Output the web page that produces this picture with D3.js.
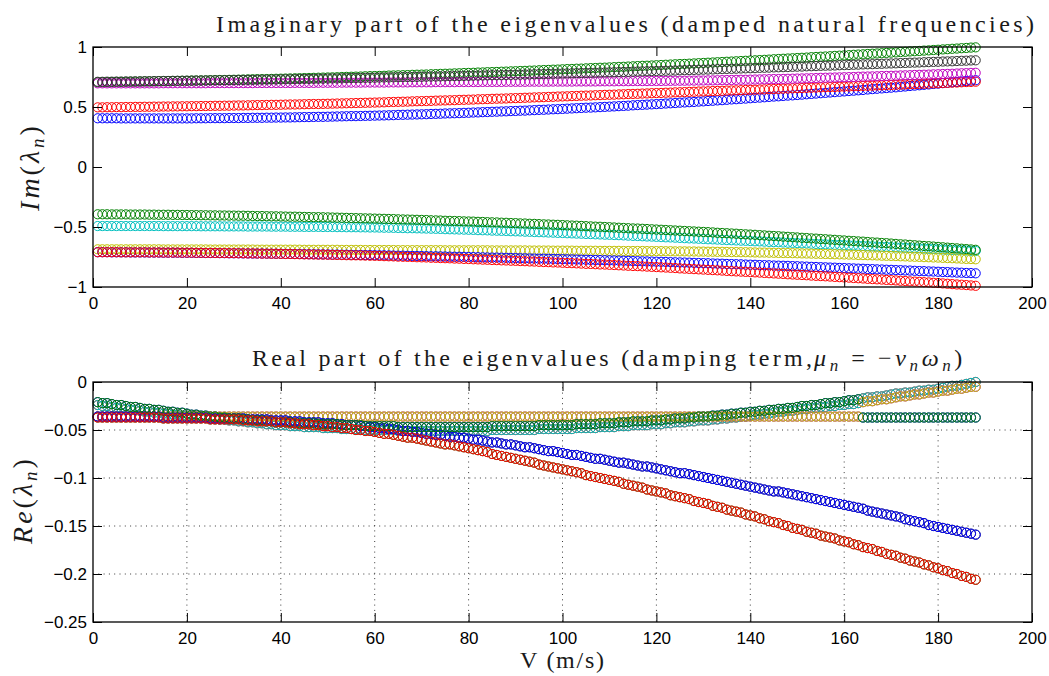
<!DOCTYPE html>
<html>
<head>
<meta charset="utf-8">
<script src="https://cdn.jsdelivr.net/npm/d3@7/dist/d3.min.js"></script>
<style>
  html, body { margin: 0; padding: 0; background: #fff; }
  svg { display: block; }
</style>
</head>
<body>
<svg id="chart" width="1049" height="676"></svg>
<script>
// Flow speed samples V (m/s), one marker per sample
const speeds = d3.range(1, 189);

// Imaginary parts of the ten eigenvalues (damped natural frequencies)
const imBlueUp = [0.406,
0.406,0.406,0.406,0.406,0.405,0.405,0.405,0.405,0.405,
0.405,0.405,0.405,0.405,0.405,0.405,0.405,0.405,0.405,0.405,
0.405,0.406,0.406,0.406,0.407,0.407,0.407,0.407,0.408,0.408,
0.408,0.409,0.409,0.410,0.410,0.410,0.411,0.411,0.412,0.412,
0.413,0.413,0.414,0.415,0.416,0.416,0.417,0.418,0.418,0.419,
0.420,0.421,0.422,0.423,0.424,0.424,0.425,0.426,0.427,0.428,
0.429,0.430,0.431,0.432,0.434,0.435,0.436,0.437,0.438,0.439,
0.440,0.442,0.443,0.444,0.446,0.447,0.448,0.449,0.451,0.452,
0.454,0.455,0.457,0.458,0.460,0.461,0.463,0.464,0.466,0.467,
0.469,0.470,0.472,0.474,0.476,0.477,0.479,0.481,0.482,0.484,
0.486,0.488,0.490,0.492,0.494,0.495,0.497,0.499,0.501,0.503,
0.505,0.507,0.509,0.511,0.514,0.516,0.518,0.520,0.522,0.524,
0.526,0.529,0.531,0.533,0.536,0.538,0.540,0.542,0.545,0.547,
0.550,0.552,0.555,0.557,0.560,0.563,0.565,0.568,0.570,0.573,
0.576,0.578,0.581,0.584,0.587,0.589,0.592,0.595,0.597,0.600,
0.603,0.606,0.609,0.612,0.615,0.618,0.621,0.624,0.627,0.630,
0.633,0.636,0.639,0.642,0.646,0.649,0.652,0.655,0.658,0.661,
0.664,0.668,0.671,0.675,0.678,0.681,0.685,0.688,0.692,0.695,
0.699,0.702,0.706,0.709,0.713,0.716,0.720,0.723];

const imGreenUp = [0.706,
0.707,0.707,0.708,0.709,0.709,0.710,0.711,0.711,0.712,
0.713,0.713,0.714,0.715,0.716,0.716,0.717,0.718,0.718,0.719,
0.720,0.721,0.721,0.722,0.723,0.724,0.725,0.725,0.726,0.727,
0.728,0.729,0.730,0.731,0.732,0.732,0.733,0.734,0.735,0.736,
0.737,0.738,0.739,0.740,0.741,0.742,0.743,0.744,0.745,0.746,
0.747,0.748,0.750,0.751,0.752,0.753,0.754,0.756,0.757,0.758,
0.759,0.760,0.762,0.763,0.764,0.765,0.766,0.768,0.769,0.770,
0.771,0.773,0.774,0.776,0.777,0.778,0.780,0.781,0.783,0.784,
0.785,0.787,0.788,0.790,0.791,0.792,0.794,0.795,0.797,0.798,
0.800,0.801,0.803,0.804,0.806,0.808,0.809,0.811,0.812,0.814,
0.816,0.817,0.819,0.820,0.822,0.824,0.825,0.827,0.828,0.830,
0.832,0.834,0.835,0.837,0.839,0.841,0.843,0.844,0.846,0.848,
0.850,0.852,0.854,0.856,0.858,0.859,0.861,0.863,0.865,0.867,
0.869,0.871,0.873,0.875,0.877,0.879,0.881,0.883,0.885,0.887,
0.889,0.891,0.893,0.895,0.898,0.900,0.902,0.904,0.906,0.908,
0.910,0.912,0.915,0.917,0.919,0.921,0.923,0.926,0.928,0.930,
0.932,0.935,0.937,0.939,0.942,0.944,0.946,0.948,0.951,0.953,
0.955,0.958,0.960,0.963,0.965,0.967,0.970,0.972,0.975,0.977,
0.980,0.982,0.985,0.987,0.990,0.992,0.995,0.997];

const imRedUp = [0.497,
0.497,0.498,0.498,0.499,0.499,0.500,0.500,0.501,0.501,
0.502,0.502,0.503,0.503,0.504,0.504,0.505,0.505,0.506,0.506,
0.507,0.507,0.508,0.508,0.509,0.510,0.510,0.511,0.511,0.512,
0.513,0.513,0.514,0.515,0.516,0.516,0.517,0.518,0.518,0.519,
0.520,0.521,0.521,0.522,0.523,0.524,0.525,0.525,0.526,0.527,
0.528,0.529,0.530,0.531,0.532,0.533,0.534,0.535,0.536,0.537,
0.538,0.539,0.541,0.542,0.543,0.544,0.545,0.547,0.548,0.549,
0.550,0.551,0.553,0.554,0.555,0.556,0.557,0.559,0.560,0.561,
0.562,0.564,0.565,0.566,0.568,0.569,0.570,0.571,0.573,0.574,
0.575,0.577,0.578,0.580,0.581,0.582,0.584,0.585,0.587,0.588,
0.589,0.591,0.592,0.594,0.595,0.596,0.598,0.599,0.601,0.602,
0.603,0.605,0.606,0.608,0.609,0.610,0.612,0.613,0.615,0.616,
0.617,0.619,0.620,0.622,0.623,0.624,0.626,0.627,0.629,0.630,
0.631,0.633,0.634,0.635,0.637,0.638,0.639,0.640,0.642,0.643,
0.644,0.646,0.647,0.649,0.650,0.651,0.653,0.654,0.656,0.657,
0.658,0.660,0.661,0.662,0.664,0.665,0.666,0.667,0.669,0.670,
0.671,0.673,0.674,0.676,0.677,0.678,0.680,0.681,0.683,0.684,
0.685,0.687,0.688,0.690,0.691,0.692,0.694,0.695,0.697,0.698,
0.700,0.701,0.703,0.704,0.706,0.708,0.709,0.711];

const imCyanDown = [-0.492,
-0.492,-0.492,-0.492,-0.492,-0.492,-0.492,-0.492,-0.492,-0.492,
-0.492,-0.492,-0.492,-0.492,-0.493,-0.493,-0.493,-0.493,-0.493,-0.493,
-0.493,-0.493,-0.494,-0.494,-0.494,-0.494,-0.494,-0.495,-0.495,-0.495,
-0.495,-0.495,-0.496,-0.496,-0.496,-0.496,-0.496,-0.497,-0.497,-0.497,
-0.497,-0.498,-0.498,-0.498,-0.499,-0.499,-0.499,-0.499,-0.500,-0.500,
-0.500,-0.501,-0.501,-0.502,-0.502,-0.502,-0.503,-0.503,-0.504,-0.504,
-0.505,-0.506,-0.506,-0.507,-0.508,-0.509,-0.510,-0.510,-0.511,-0.512,
-0.513,-0.514,-0.515,-0.516,-0.518,-0.519,-0.520,-0.521,-0.522,-0.523,
-0.524,-0.526,-0.527,-0.528,-0.530,-0.531,-0.532,-0.533,-0.535,-0.536,
-0.537,-0.539,-0.540,-0.542,-0.543,-0.544,-0.546,-0.547,-0.549,-0.550,
-0.552,-0.553,-0.555,-0.556,-0.558,-0.559,-0.561,-0.562,-0.564,-0.565,
-0.567,-0.568,-0.570,-0.572,-0.574,-0.575,-0.577,-0.579,-0.580,-0.582,
-0.584,-0.586,-0.587,-0.589,-0.591,-0.593,-0.595,-0.596,-0.598,-0.600,
-0.602,-0.603,-0.605,-0.607,-0.609,-0.610,-0.612,-0.614,-0.615,-0.617,
-0.619,-0.620,-0.622,-0.624,-0.626,-0.627,-0.629,-0.631,-0.632,-0.634,
-0.636,-0.637,-0.639,-0.641,-0.643,-0.644,-0.646,-0.648,-0.649,-0.651,
-0.653,-0.654,-0.656,-0.658,-0.660,-0.661,-0.663,-0.665,-0.666,-0.668,
-0.670,-0.671,-0.673,-0.675,-0.677,-0.678,-0.680,-0.682,-0.683,-0.685,
-0.687,-0.689,-0.691,-0.693,-0.694,-0.696,-0.698,-0.700];

const imMagentaUp = [0.697,
0.697,0.697,0.697,0.697,0.697,0.697,0.697,0.697,0.697,
0.697,0.697,0.697,0.697,0.698,0.698,0.698,0.698,0.698,0.698,
0.698,0.698,0.698,0.698,0.699,0.699,0.699,0.699,0.699,0.699,
0.699,0.699,0.699,0.699,0.700,0.700,0.700,0.700,0.700,0.700,
0.700,0.700,0.701,0.701,0.701,0.701,0.701,0.702,0.702,0.702,
0.702,0.702,0.703,0.703,0.703,0.703,0.703,0.704,0.704,0.704,
0.704,0.704,0.705,0.705,0.705,0.705,0.705,0.706,0.706,0.706,
0.706,0.706,0.707,0.707,0.707,0.707,0.707,0.708,0.708,0.708,
0.708,0.708,0.709,0.709,0.709,0.709,0.709,0.710,0.710,0.710,
0.710,0.710,0.711,0.711,0.711,0.711,0.711,0.712,0.712,0.712,
0.712,0.712,0.713,0.713,0.713,0.713,0.713,0.714,0.714,0.714,
0.714,0.715,0.715,0.715,0.716,0.716,0.716,0.716,0.717,0.717,
0.717,0.718,0.718,0.719,0.719,0.719,0.720,0.720,0.721,0.721,
0.722,0.722,0.723,0.724,0.725,0.725,0.726,0.727,0.727,0.728,
0.729,0.730,0.731,0.732,0.733,0.733,0.734,0.735,0.736,0.737,
0.738,0.739,0.740,0.741,0.743,0.744,0.745,0.746,0.747,0.748,
0.749,0.750,0.752,0.753,0.754,0.755,0.756,0.758,0.759,0.760,
0.761,0.763,0.764,0.765,0.767,0.768,0.769,0.770,0.772,0.773,
0.775,0.776,0.777,0.779,0.781,0.782,0.784,0.785];

const imYellowDown = [-0.686,
-0.686,-0.686,-0.686,-0.686,-0.686,-0.686,-0.686,-0.686,-0.686,
-0.686,-0.686,-0.686,-0.686,-0.687,-0.687,-0.687,-0.687,-0.687,-0.687,
-0.687,-0.687,-0.687,-0.687,-0.688,-0.688,-0.688,-0.688,-0.688,-0.688,
-0.688,-0.688,-0.688,-0.688,-0.689,-0.689,-0.689,-0.689,-0.689,-0.689,
-0.689,-0.689,-0.689,-0.689,-0.690,-0.690,-0.690,-0.690,-0.690,-0.690,
-0.690,-0.690,-0.691,-0.691,-0.691,-0.691,-0.691,-0.692,-0.692,-0.692,
-0.692,-0.692,-0.692,-0.692,-0.693,-0.693,-0.693,-0.693,-0.693,-0.693,
-0.693,-0.693,-0.693,-0.693,-0.694,-0.694,-0.694,-0.694,-0.694,-0.694,
-0.694,-0.694,-0.694,-0.694,-0.695,-0.695,-0.695,-0.695,-0.695,-0.695,
-0.695,-0.695,-0.696,-0.696,-0.696,-0.696,-0.696,-0.697,-0.697,-0.697,
-0.697,-0.697,-0.698,-0.698,-0.698,-0.698,-0.698,-0.699,-0.699,-0.699,
-0.699,-0.699,-0.700,-0.700,-0.700,-0.700,-0.700,-0.701,-0.701,-0.701,
-0.701,-0.702,-0.702,-0.703,-0.703,-0.703,-0.704,-0.704,-0.705,-0.705,
-0.706,-0.706,-0.707,-0.707,-0.708,-0.709,-0.709,-0.710,-0.710,-0.711,
-0.712,-0.713,-0.713,-0.714,-0.715,-0.716,-0.717,-0.717,-0.718,-0.719,
-0.720,-0.721,-0.722,-0.723,-0.724,-0.725,-0.726,-0.727,-0.728,-0.729,
-0.730,-0.731,-0.733,-0.734,-0.735,-0.736,-0.737,-0.739,-0.740,-0.741,
-0.742,-0.744,-0.745,-0.747,-0.748,-0.749,-0.751,-0.752,-0.754,-0.755,
-0.757,-0.759,-0.760,-0.762,-0.764,-0.766,-0.767,-0.769];

const imGrayUp = [0.710,
0.710,0.711,0.711,0.712,0.712,0.713,0.713,0.714,0.714,
0.715,0.715,0.716,0.716,0.717,0.717,0.718,0.718,0.719,0.719,
0.720,0.720,0.721,0.721,0.722,0.722,0.723,0.723,0.724,0.724,
0.725,0.725,0.726,0.726,0.727,0.728,0.728,0.729,0.729,0.730,
0.731,0.731,0.732,0.733,0.734,0.734,0.735,0.736,0.736,0.737,
0.738,0.738,0.739,0.740,0.741,0.741,0.742,0.743,0.743,0.744,
0.745,0.746,0.746,0.747,0.748,0.749,0.750,0.750,0.751,0.752,
0.753,0.754,0.754,0.755,0.756,0.757,0.758,0.758,0.759,0.760,
0.761,0.762,0.763,0.764,0.765,0.765,0.766,0.767,0.768,0.769,
0.770,0.771,0.772,0.773,0.774,0.775,0.776,0.777,0.778,0.779,
0.780,0.781,0.782,0.783,0.784,0.785,0.786,0.787,0.788,0.789,
0.790,0.791,0.792,0.793,0.795,0.796,0.797,0.798,0.799,0.800,
0.801,0.802,0.803,0.804,0.806,0.807,0.808,0.809,0.810,0.811,
0.812,0.813,0.815,0.816,0.817,0.818,0.819,0.821,0.822,0.823,
0.824,0.826,0.827,0.828,0.830,0.831,0.832,0.833,0.835,0.836,
0.837,0.839,0.840,0.841,0.843,0.844,0.845,0.846,0.848,0.849,
0.850,0.852,0.853,0.855,0.856,0.857,0.859,0.860,0.862,0.863,
0.864,0.866,0.867,0.869,0.870,0.871,0.873,0.874,0.876,0.877,
0.879,0.880,0.881,0.883,0.885,0.886,0.888,0.889];

const imBlueDown = [-0.710,
-0.710,-0.710,-0.711,-0.711,-0.711,-0.711,-0.712,-0.712,-0.712,
-0.712,-0.713,-0.713,-0.713,-0.714,-0.714,-0.714,-0.714,-0.715,-0.715,
-0.715,-0.716,-0.716,-0.717,-0.717,-0.717,-0.718,-0.718,-0.719,-0.719,
-0.719,-0.720,-0.720,-0.721,-0.721,-0.721,-0.722,-0.722,-0.723,-0.723,
-0.724,-0.724,-0.725,-0.725,-0.726,-0.727,-0.727,-0.728,-0.728,-0.729,
-0.730,-0.730,-0.731,-0.731,-0.732,-0.733,-0.733,-0.734,-0.734,-0.735,
-0.736,-0.736,-0.737,-0.738,-0.739,-0.739,-0.740,-0.741,-0.741,-0.742,
-0.743,-0.744,-0.744,-0.745,-0.746,-0.747,-0.748,-0.748,-0.749,-0.750,
-0.751,-0.752,-0.753,-0.754,-0.755,-0.755,-0.756,-0.757,-0.758,-0.759,
-0.760,-0.761,-0.762,-0.763,-0.764,-0.764,-0.765,-0.766,-0.767,-0.768,
-0.769,-0.770,-0.771,-0.772,-0.773,-0.774,-0.775,-0.776,-0.777,-0.778,
-0.779,-0.780,-0.781,-0.782,-0.784,-0.785,-0.786,-0.787,-0.788,-0.789,
-0.790,-0.791,-0.793,-0.794,-0.795,-0.796,-0.797,-0.799,-0.800,-0.801,
-0.802,-0.804,-0.805,-0.806,-0.808,-0.809,-0.810,-0.811,-0.813,-0.814,
-0.815,-0.817,-0.818,-0.819,-0.821,-0.822,-0.823,-0.824,-0.826,-0.827,
-0.829,-0.830,-0.832,-0.833,-0.835,-0.836,-0.838,-0.839,-0.841,-0.842,
-0.844,-0.845,-0.847,-0.848,-0.850,-0.851,-0.853,-0.854,-0.856,-0.857,
-0.859,-0.860,-0.862,-0.863,-0.865,-0.867,-0.868,-0.870,-0.871,-0.873,
-0.875,-0.876,-0.878,-0.880,-0.881,-0.883,-0.884,-0.886];

const imGreenDown = [-0.394,
-0.394,-0.394,-0.395,-0.395,-0.395,-0.395,-0.396,-0.396,-0.396,
-0.396,-0.397,-0.397,-0.398,-0.398,-0.398,-0.399,-0.399,-0.400,-0.400,
-0.401,-0.401,-0.402,-0.402,-0.403,-0.403,-0.404,-0.404,-0.405,-0.405,
-0.406,-0.406,-0.407,-0.408,-0.409,-0.409,-0.410,-0.411,-0.411,-0.412,
-0.413,-0.414,-0.414,-0.415,-0.416,-0.417,-0.418,-0.418,-0.419,-0.420,
-0.421,-0.422,-0.423,-0.424,-0.425,-0.426,-0.427,-0.428,-0.429,-0.430,
-0.431,-0.432,-0.433,-0.434,-0.436,-0.437,-0.438,-0.439,-0.440,-0.441,
-0.442,-0.444,-0.445,-0.446,-0.448,-0.449,-0.450,-0.451,-0.453,-0.454,
-0.455,-0.457,-0.458,-0.460,-0.461,-0.462,-0.464,-0.465,-0.467,-0.468,
-0.470,-0.471,-0.473,-0.474,-0.476,-0.478,-0.479,-0.481,-0.482,-0.484,
-0.486,-0.488,-0.489,-0.491,-0.493,-0.495,-0.497,-0.498,-0.500,-0.502,
-0.504,-0.506,-0.508,-0.510,-0.512,-0.513,-0.515,-0.517,-0.519,-0.521,
-0.523,-0.525,-0.527,-0.529,-0.531,-0.533,-0.535,-0.537,-0.539,-0.541,
-0.543,-0.545,-0.548,-0.550,-0.552,-0.554,-0.556,-0.559,-0.561,-0.563,
-0.565,-0.568,-0.570,-0.573,-0.575,-0.577,-0.580,-0.582,-0.585,-0.587,
-0.590,-0.592,-0.595,-0.597,-0.600,-0.602,-0.605,-0.607,-0.610,-0.612,
-0.615,-0.617,-0.620,-0.622,-0.625,-0.628,-0.630,-0.633,-0.635,-0.638,
-0.641,-0.644,-0.646,-0.649,-0.652,-0.655,-0.658,-0.660,-0.663,-0.666,
-0.669,-0.672,-0.675,-0.678,-0.681,-0.684,-0.687,-0.690];

const imRedDown = [-0.710,
-0.710,-0.710,-0.710,-0.710,-0.711,-0.711,-0.711,-0.711,-0.711,
-0.711,-0.712,-0.712,-0.712,-0.713,-0.713,-0.713,-0.713,-0.714,-0.714,
-0.714,-0.715,-0.715,-0.716,-0.716,-0.716,-0.717,-0.717,-0.718,-0.718,
-0.719,-0.719,-0.720,-0.720,-0.721,-0.722,-0.722,-0.723,-0.723,-0.724,
-0.725,-0.725,-0.726,-0.727,-0.728,-0.728,-0.729,-0.730,-0.730,-0.731,
-0.732,-0.733,-0.734,-0.735,-0.736,-0.736,-0.737,-0.738,-0.739,-0.740,
-0.741,-0.743,-0.744,-0.745,-0.747,-0.748,-0.749,-0.750,-0.752,-0.753,
-0.754,-0.756,-0.757,-0.759,-0.760,-0.761,-0.763,-0.764,-0.766,-0.767,
-0.769,-0.770,-0.772,-0.773,-0.775,-0.776,-0.778,-0.779,-0.781,-0.782,
-0.784,-0.785,-0.787,-0.788,-0.790,-0.792,-0.793,-0.795,-0.796,-0.798,
-0.800,-0.801,-0.803,-0.805,-0.807,-0.808,-0.810,-0.812,-0.813,-0.815,
-0.817,-0.819,-0.821,-0.823,-0.825,-0.826,-0.828,-0.830,-0.832,-0.834,
-0.836,-0.838,-0.840,-0.842,-0.845,-0.847,-0.849,-0.851,-0.853,-0.855,
-0.857,-0.859,-0.861,-0.863,-0.866,-0.868,-0.870,-0.872,-0.874,-0.876,
-0.878,-0.880,-0.883,-0.885,-0.887,-0.889,-0.891,-0.894,-0.896,-0.898,
-0.900,-0.902,-0.905,-0.907,-0.909,-0.911,-0.913,-0.916,-0.918,-0.920,
-0.922,-0.925,-0.927,-0.929,-0.932,-0.934,-0.936,-0.938,-0.941,-0.943,
-0.945,-0.948,-0.950,-0.953,-0.955,-0.957,-0.960,-0.962,-0.965,-0.967,
-0.970,-0.973,-0.976,-0.979,-0.981,-0.984,-0.987,-0.990];

// Real parts (damping terms); each conjugate pair shares one track
const reGreen = [-0.021,
-0.022,-0.022,-0.023,-0.024,-0.024,-0.025,-0.026,-0.026,-0.027,
-0.028,-0.028,-0.029,-0.029,-0.030,-0.031,-0.031,-0.032,-0.032,-0.033,
-0.034,-0.034,-0.035,-0.035,-0.036,-0.036,-0.037,-0.037,-0.038,-0.038,
-0.038,-0.039,-0.039,-0.040,-0.040,-0.040,-0.041,-0.041,-0.042,-0.042,
-0.042,-0.042,-0.043,-0.043,-0.043,-0.043,-0.043,-0.044,-0.044,-0.044,
-0.044,-0.044,-0.045,-0.045,-0.045,-0.045,-0.045,-0.046,-0.046,-0.046,
-0.046,-0.046,-0.046,-0.046,-0.047,-0.047,-0.047,-0.047,-0.047,-0.047,
-0.047,-0.047,-0.047,-0.047,-0.047,-0.047,-0.047,-0.047,-0.047,-0.047,
-0.047,-0.047,-0.047,-0.047,-0.046,-0.046,-0.046,-0.046,-0.046,-0.046,
-0.046,-0.046,-0.046,-0.046,-0.045,-0.045,-0.045,-0.045,-0.045,-0.045,
-0.045,-0.045,-0.044,-0.044,-0.044,-0.044,-0.044,-0.043,-0.043,-0.043,
-0.043,-0.042,-0.042,-0.042,-0.041,-0.041,-0.041,-0.041,-0.040,-0.040,
-0.040,-0.039,-0.039,-0.038,-0.038,-0.038,-0.037,-0.037,-0.036,-0.036,
-0.036,-0.035,-0.035,-0.034,-0.034,-0.033,-0.033,-0.032,-0.032,-0.031,
-0.031,-0.030,-0.030,-0.029,-0.029,-0.028,-0.028,-0.027,-0.027,-0.026,
-0.025,-0.025,-0.024,-0.024,-0.023,-0.022,-0.022,-0.021,-0.021,-0.020,
-0.019,-0.019,-0.018,
-0.037,-0.037,-0.037,-0.037,-0.037,-0.037,-0.037,
-0.037,-0.037,-0.037,-0.037,-0.037,-0.037,-0.037,-0.037,-0.037,-0.037,
-0.037,-0.037,-0.037,-0.037,-0.037,-0.037,-0.037,-0.037];

const reCyan = [-0.024,
-0.025,-0.025,-0.026,-0.027,-0.027,-0.028,-0.029,-0.029,-0.030,
-0.031,-0.031,-0.032,-0.032,-0.033,-0.033,-0.034,-0.034,-0.035,-0.035,
-0.036,-0.036,-0.037,-0.037,-0.038,-0.038,-0.039,-0.039,-0.040,-0.040,
-0.041,-0.041,-0.042,-0.042,-0.043,-0.043,-0.044,-0.044,-0.045,-0.045,
-0.045,-0.046,-0.046,-0.046,-0.047,-0.047,-0.047,-0.047,-0.048,-0.048,
-0.048,-0.048,-0.049,-0.049,-0.049,-0.049,-0.049,-0.050,-0.050,-0.050,
-0.050,-0.050,-0.050,-0.050,-0.051,-0.051,-0.051,-0.051,-0.051,-0.051,
-0.051,-0.051,-0.051,-0.051,-0.051,-0.051,-0.051,-0.051,-0.051,-0.051,
-0.051,-0.051,-0.051,-0.051,-0.050,-0.050,-0.050,-0.050,-0.050,-0.050,
-0.050,-0.050,-0.050,-0.050,-0.049,-0.049,-0.049,-0.049,-0.049,-0.049,
-0.049,-0.049,-0.048,-0.048,-0.048,-0.048,-0.048,-0.047,-0.047,-0.047,
-0.047,-0.046,-0.046,-0.046,-0.045,-0.045,-0.045,-0.045,-0.044,-0.044,
-0.044,-0.043,-0.043,-0.042,-0.042,-0.042,-0.041,-0.041,-0.040,-0.040,
-0.040,-0.039,-0.039,-0.038,-0.038,-0.037,-0.037,-0.036,-0.036,-0.035,
-0.034,-0.034,-0.033,-0.033,-0.032,-0.031,-0.031,-0.030,-0.030,-0.029,
-0.028,-0.028,-0.027,-0.027,-0.026,-0.026,-0.025,-0.025,-0.024,-0.024,
-0.023,-0.023,-0.022,
-0.017,-0.016,-0.016,-0.015,-0.015,-0.014,-0.013,
-0.012,-0.012,-0.011,-0.011,-0.010,-0.009,-0.009,-0.008,-0.008,-0.007,
-0.006,-0.005,-0.004,-0.004,-0.003,-0.002,-0.001,0.000];

const reYellow = [-0.036,
-0.036,-0.036,-0.036,-0.036,-0.036,-0.036,-0.036,-0.036,-0.036,
-0.036,-0.036,-0.036,-0.036,-0.036,-0.036,-0.036,-0.036,-0.036,-0.036,
-0.036,-0.036,-0.036,-0.036,-0.036,-0.036,-0.036,-0.036,-0.036,-0.036,
-0.036,-0.036,-0.036,-0.036,-0.036,-0.036,-0.036,-0.036,-0.036,-0.036,
-0.036,-0.036,-0.036,-0.036,-0.036,-0.036,-0.036,-0.036,-0.036,-0.036,
-0.036,-0.036,-0.036,-0.036,-0.036,-0.036,-0.036,-0.036,-0.036,-0.036,
-0.036,-0.036,-0.036,-0.036,-0.036,-0.036,-0.036,-0.036,-0.036,-0.036,
-0.036,-0.036,-0.036,-0.036,-0.036,-0.036,-0.036,-0.036,-0.036,-0.036,
-0.036,-0.036,-0.036,-0.036,-0.036,-0.036,-0.036,-0.036,-0.036,-0.036,
-0.036,-0.036,-0.036,-0.036,-0.036,-0.036,-0.036,-0.036,-0.036,-0.036,
-0.036,-0.036,-0.036,-0.036,-0.036,-0.036,-0.036,-0.036,-0.036,-0.036,
-0.036,-0.036,-0.036,-0.036,-0.036,-0.036,-0.036,-0.036,-0.036,-0.036,
-0.036,-0.036,-0.036,-0.036,-0.036,-0.036,-0.036,-0.036,-0.036,-0.036,
-0.036,-0.036,-0.036,-0.036,-0.036,-0.036,-0.036,-0.036,-0.036,-0.036,
-0.036,-0.036,-0.036,-0.036,-0.036,-0.036,-0.036,-0.036,-0.036,-0.036,
-0.036,-0.036,-0.036,-0.036,-0.036,-0.036,-0.036,-0.036,-0.036,-0.036,
-0.036,-0.036,-0.036,
-0.021,-0.020,-0.020,-0.019,-0.018,-0.018,-0.017,
-0.016,-0.015,-0.015,-0.014,-0.013,-0.013,-0.012,-0.011,-0.011,-0.010,
-0.009,-0.009,-0.008,-0.007,-0.007,-0.006,-0.005,-0.005];

const reBlue = [-0.036,
-0.036,-0.036,-0.036,-0.036,-0.036,-0.036,-0.036,-0.036,-0.036,
-0.036,-0.036,-0.036,-0.036,-0.037,-0.037,-0.037,-0.037,-0.037,-0.037,
-0.037,-0.037,-0.037,-0.037,-0.038,-0.038,-0.038,-0.038,-0.038,-0.038,
-0.038,-0.038,-0.039,-0.039,-0.039,-0.039,-0.039,-0.040,-0.040,-0.040,
-0.040,-0.041,-0.041,-0.041,-0.042,-0.042,-0.042,-0.042,-0.043,-0.043,
-0.043,-0.044,-0.044,-0.045,-0.045,-0.045,-0.046,-0.046,-0.047,-0.047,
-0.048,-0.048,-0.049,-0.049,-0.050,-0.051,-0.051,-0.052,-0.052,-0.053,
-0.054,-0.054,-0.055,-0.055,-0.056,-0.057,-0.057,-0.058,-0.058,-0.059,
-0.060,-0.060,-0.061,-0.062,-0.063,-0.063,-0.064,-0.065,-0.065,-0.066,
-0.067,-0.068,-0.068,-0.069,-0.070,-0.071,-0.072,-0.072,-0.073,-0.074,
-0.075,-0.076,-0.076,-0.077,-0.078,-0.079,-0.080,-0.080,-0.081,-0.082,
-0.083,-0.084,-0.084,-0.085,-0.086,-0.087,-0.088,-0.088,-0.089,-0.090,
-0.091,-0.092,-0.093,-0.094,-0.095,-0.095,-0.096,-0.097,-0.098,-0.099,
-0.100,-0.101,-0.102,-0.103,-0.104,-0.105,-0.106,-0.107,-0.108,-0.109,
-0.110,-0.111,-0.112,-0.113,-0.114,-0.114,-0.115,-0.116,-0.117,-0.118,
-0.119,-0.120,-0.121,-0.122,-0.123,-0.124,-0.125,-0.126,-0.127,-0.128,
-0.129,-0.130,-0.131,-0.132,-0.134,-0.135,-0.136,-0.137,-0.138,-0.139,
-0.140,-0.141,-0.143,-0.144,-0.145,-0.146,-0.147,-0.149,-0.150,-0.151,
-0.152,-0.153,-0.154,-0.155,-0.156,-0.157,-0.158,-0.159];

const reRed = [-0.037,
-0.037,-0.037,-0.037,-0.037,-0.037,-0.037,-0.037,-0.037,-0.037,
-0.037,-0.037,-0.037,-0.037,-0.038,-0.038,-0.038,-0.038,-0.038,-0.038,
-0.038,-0.038,-0.038,-0.038,-0.039,-0.039,-0.039,-0.039,-0.039,-0.039,
-0.039,-0.040,-0.040,-0.040,-0.041,-0.041,-0.041,-0.041,-0.042,-0.042,
-0.042,-0.043,-0.043,-0.044,-0.044,-0.044,-0.045,-0.045,-0.046,-0.046,
-0.047,-0.047,-0.048,-0.048,-0.049,-0.050,-0.050,-0.051,-0.051,-0.052,
-0.053,-0.054,-0.054,-0.055,-0.056,-0.057,-0.058,-0.058,-0.059,-0.060,
-0.061,-0.062,-0.063,-0.064,-0.065,-0.065,-0.066,-0.067,-0.068,-0.069,
-0.070,-0.071,-0.072,-0.073,-0.075,-0.076,-0.077,-0.078,-0.079,-0.080,
-0.081,-0.082,-0.083,-0.084,-0.086,-0.087,-0.088,-0.089,-0.090,-0.091,
-0.092,-0.093,-0.094,-0.095,-0.097,-0.098,-0.099,-0.100,-0.101,-0.102,
-0.103,-0.104,-0.106,-0.107,-0.108,-0.109,-0.110,-0.112,-0.113,-0.114,
-0.115,-0.116,-0.118,-0.119,-0.120,-0.121,-0.122,-0.124,-0.125,-0.126,
-0.127,-0.129,-0.130,-0.131,-0.133,-0.134,-0.135,-0.136,-0.138,-0.139,
-0.140,-0.142,-0.143,-0.145,-0.146,-0.147,-0.149,-0.150,-0.152,-0.153,
-0.154,-0.156,-0.157,-0.158,-0.160,-0.161,-0.162,-0.163,-0.165,-0.166,
-0.167,-0.169,-0.170,-0.172,-0.173,-0.174,-0.176,-0.177,-0.179,-0.180,
-0.181,-0.183,-0.184,-0.186,-0.187,-0.188,-0.190,-0.191,-0.193,-0.194,
-0.196,-0.197,-0.199,-0.200,-0.202,-0.203,-0.205,-0.206];

// Axis ticks
const speedTicks = [0, 20, 40, 60, 80, 100, 120, 140, 160, 180, 200];
const imagTicks = [-1, -0.5, 0, 0.5, 1];
const realTicks = [-0.25, -0.2, -0.15, -0.1, -0.05, 0];

// Texts
const titleImag = "Imaginary part of the eigenvalues (damped natural frequencies)";
const titleRealProse = "Real part of the eigenvalues (damping term,";
const xLabel = "V (m/s)";

// Classic plot colour cycle
const col = { b: "#0000ff", g: "#008000", r: "#ff0000", c: "#00bfbf", m: "#bf00bf", y: "#bfbf00", k: "#333333" };

// Drawing order follows the plotting colour cycle
const imagSeries = [
  [imBlueUp, col.b], [imGreenUp, col.g], [imRedUp, col.r], [imCyanDown, col.c], [imMagentaUp, col.m],
  [imYellowDown, col.y], [imGrayUp, col.k], [imBlueDown, col.b], [imGreenDown, col.g], [imRedDown, col.r]
];
const realSeries = [
  [reGreen, col.b], [reRed, col.g], [reCyan, col.r], [reCyan, col.c], [reYellow, col.m],
  [reYellow, col.y], [reBlue, col.k], [reBlue, col.b], [reGreen, col.g], [reRed, col.r]
];

const svg = d3.select("#chart");
const sansFont = "'Liberation Sans', Arial, Helvetica, sans-serif";
const serifFont = "'Liberation Serif', 'Times New Roman', serif";
const inkColor = "#1a1a1a";

const x = d3.scaleLinear().domain([0, 200]).range([93, 1032]);
const panels = [
  { top: 47, bottom: 287, domain: [-1, 1], ticks: imagTicks, series: imagSeries, grid: false },
  { top: 382, bottom: 622, domain: [-0.25, 0], ticks: realTicks, series: realSeries, grid: true }
];

const fmt = d => d < 0 ? "\u2212" + Math.abs(d) : String(d);

panels.forEach(p => {
  const y = d3.scaleLinear().domain(p.domain).range([p.bottom, p.top]);
  const g = svg.append("g");

  if (p.grid) {
    const grid = g.append("g").attr("stroke", "#3a3a3a").attr("stroke-width", 1)
      .attr("stroke-dasharray", "1 4.3");
    grid.selectAll("line.v").data(speedTicks.slice(1, -1)).join("line")
      .attr("x1", d => x(d)).attr("x2", d => x(d))
      .attr("y1", p.top).attr("y2", p.bottom);
    grid.selectAll("line.h").data(p.ticks.slice(1, -1)).join("line")
      .attr("x1", x(0)).attr("x2", x(200))
      .attr("y1", d => y(d)).attr("y2", d => y(d));
  }

  // Circle markers, one per speed sample
  p.series.forEach(([values, color]) => {
    g.append("g")
      .attr("fill", "none").attr("stroke", color).attr("stroke-width", 1)
      .selectAll("circle").data(speeds).join("circle")
      .attr("cx", d => x(d))
      .attr("cy", (d, i) => y(values[i]))
      .attr("r", 4.6);
  });

  // Frame
  g.append("rect")
    .attr("x", x(0)).attr("y", p.top)
    .attr("width", x(200) - x(0)).attr("height", p.bottom - p.top)
    .attr("fill", "none").attr("stroke", "#000").attr("stroke-width", 1.3);

  const style = sel => {
    sel.select(".domain").remove();
    sel.attr("font-family", sansFont).attr("font-size", 17);
    sel.selectAll(".tick line").attr("stroke", "#000").attr("stroke-width", 1);
    sel.selectAll(".tick text").attr("fill", "#000");
  };

  g.append("g").attr("transform", `translate(0,${p.bottom})`)
    .call(d3.axisBottom(x).tickValues(speedTicks).tickSize(-9).tickPadding(10).tickFormat(fmt))
    .call(style);
  g.append("g").attr("transform", `translate(0,${p.top})`)
    .call(d3.axisTop(x).tickValues(speedTicks).tickSize(-9).tickFormat(""))
    .call(style);
  g.append("g").attr("transform", `translate(${x(0)},0)`)
    .call(d3.axisLeft(y).tickValues(p.ticks).tickSize(-9).tickPadding(6).tickFormat(fmt))
    .call(style);
  g.append("g").attr("transform", `translate(${x(200)},0)`)
    .call(d3.axisRight(y).tickValues(p.ticks).tickSize(-9).tickFormat(""))
    .call(style);
});

// Titles
svg.append("text")
  .attr("x", 216).attr("y", 31.5)
  .attr("textLength", 818).attr("lengthAdjust", "spacing")
  .attr("font-family", serifFont).attr("font-size", 24).attr("fill", inkColor)
  .text(titleImag);

svg.append("text")
  .attr("x", 252).attr("y", 366)
  .attr("textLength", 560).attr("lengthAdjust", "spacing")
  .attr("font-family", serifFont).attr("font-size", 24).attr("fill", inkColor)
  .text(titleRealProse);

// Inline math pieces: [text, italic, subscript]
function mathText(sel, pieces, subSize, shift) {
  let down = false;
  pieces.forEach(([t, it, sub]) => {
    const ts = sel.append("tspan").text(t).attr("font-style", it ? "italic" : "normal");
    if (sub && !down) { ts.attr("dy", shift); down = true; }
    else if (!sub && down) { ts.attr("dy", -shift); down = false; }
    if (sub) ts.attr("font-size", subSize);
  });
}

const mathTitle = svg.append("text")
  .attr("x", 814).attr("y", 366)
  .attr("font-family", serifFont).attr("font-size", 24).attr("fill", inkColor)
  .attr("letter-spacing", 3.6)
  .style("white-space", "pre");
mathText(mathTitle, [["\u03bc", true], ["n", true, true], [" = \u2212", false], ["v", true], ["n", true, true],
  ["\u03c9", true], ["n", true, true], [")", false]], 17, 5);

// Axis labels
const yLabels = [
  { cx: 39, cy: 167, head: "Im" },
  { cx: 32, cy: 500, head: "Re" }
];
yLabels.forEach(l => {
  const t = svg.append("text")
    .attr("transform", `translate(${l.cx},${l.cy}) rotate(-90)`)
    .attr("text-anchor", "middle")
    .attr("font-family", serifFont).attr("font-size", 28).attr("fill", inkColor)
    .attr("letter-spacing", 3);
  mathText(t, [[l.head, true], ["(", false], ["\u03bb", true], ["n", true, true], [")", false]], 19, 5);
});

svg.append("text")
  .attr("x", 562).attr("y", 668).attr("text-anchor", "middle")
  .attr("textLength", 84).attr("lengthAdjust", "spacing")
  .attr("font-family", serifFont).attr("font-size", 24).attr("fill", inkColor)
  .text(xLabel);
</script>
</body>
</html>
